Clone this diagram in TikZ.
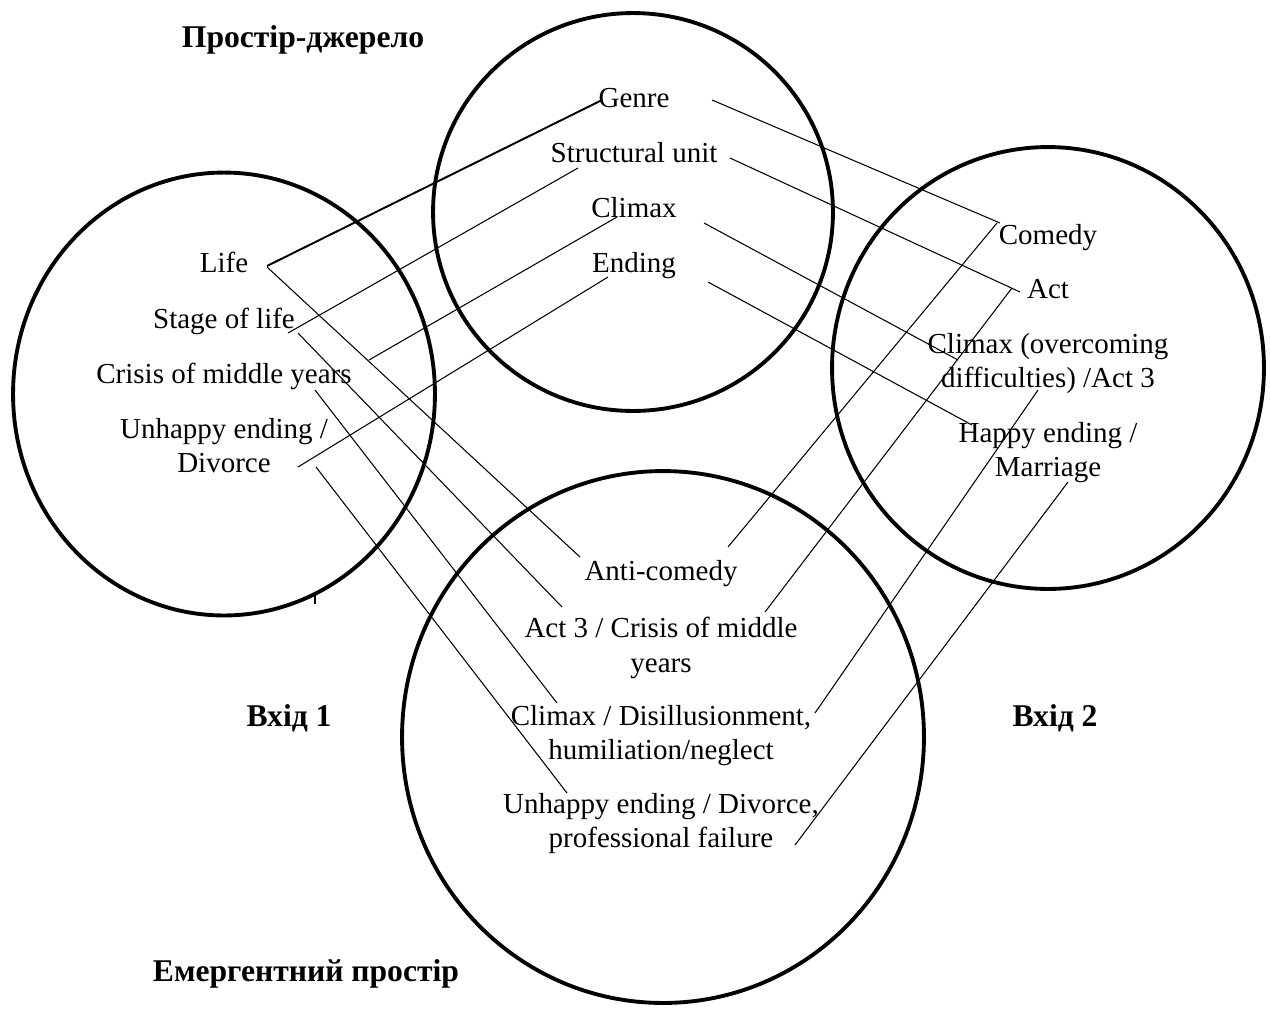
\documentclass[tikz,border=0pt]{standalone}
\usepackage{fontspec}
\setmainfont{Liberation Serif}
\usetikzlibrary{positioning, calc}
\tikzset{
    term/.style={inner sep=0pt, anchor=base, font=\fontsize{16.5}{19.6}\selectfont},
    termtwo/.style={term, anchor=north, align=center},
    spacetitle/.style={inner sep=0pt, anchor=base, font=\fontsize{18}{21}\selectfont\bfseries},
}

\begin{document}
\begin{tikzpicture}[
        x=0.02cm, y=-0.02cm,
        % Contorno spesso degli spazi
        rim/.style={line width=2.2pt},
        % Linee di corrispondenza
        link/.style={line width=0.6pt},
        boldlink/.style={line width=1.1pt}
    ]
    \useasboundingbox (0,0) rectangle (1270,1012);

    % 1. The four spaces
    \draw[rim] (633,212) ellipse [x radius=4cm, y radius=3.98cm];
    \draw[rim] (224,394) ellipse [x radius=4.22cm, y radius=4.43cm];
    \draw[rim] (1048,368) ellipse [x radius=4.32cm, y radius=4.42cm];
    \draw[rim] (663,737) ellipse [x radius=5.22cm, y radius=5.32cm];
    \draw[link] (315,596) -- (315,604);

    % 2. Titles
    \node[spacetitle] (t_source) at (303,47) {Простір-джерело};
    \node[spacetitle] (t_input1) at (289,726) {Вхід 1};
    \node[spacetitle] (t_input2) at (1055,726) {Вхід 2};
    \node[spacetitle] (t_blend) at (306,981) {Емергентний простір};

    % 3. Source space
    \node[term] (genre) at (634,107) {Genre};
    \node[term] (unit) at (634,162) {Structural unit};
    \node[term] (climax_s) at (634,217) {Climax};
    \node[term] (ending_s) at (634,272) {Ending};

    % Input 1
    \node[term] (life) at (224,272) {Life};
    \node[term] (stage) at (224,328) {Stage of life};
    \node[term] (crisis) at (224,383) {Crisis of middle years};
    \node[termtwo] (unhappy_1) at (224,418) {Unhappy ending /\\Divorce};

    % Input 2
    \node[term] (comedy) at (1048,244) {Comedy};
    \node[term] (act) at (1048,298) {Act};
    \node[termtwo] (climax_2) at (1048,333) {Climax (overcoming\\difficulties) /Act 3};
    \node[termtwo] (happy) at (1048,422) {Happy ending /\\Marriage};

    % Emergent space
    \node[term] (anti) at (661,580) {Anti-comedy};
    \node[termtwo] (act_crisis) at (661,617) {Act 3 / Crisis of middle\\years};
    \node[termtwo] (climax_b) at (661,705) {Climax / Disillusionment,\\humiliation/neglect};
    \node[termtwo] (unhappy_b) at (661,793) {Unhappy ending / Divorce,\\professional failure};

    % 4. Input 1 -> source
    \draw[boldlink] ($(life.base)+(43,-6)$) -- ($(genre.base)+(-32,-7)$);
    \draw[link] ($(stage.base)+(64,5)$) -- ($(unit.base)+(-56,6)$);
    \draw[link] ($(crisis.base)+(145,-23)$) -- ($(climax_s.base)+(-17,0)$);
    \draw[link] ($(unhappy_1.north)+(74,49)$) -- ($(ending_s.base)+(-26,5)$);

    % Input 1 -> emergent space
    \draw[link] ($(life.base)+(43,-5)$) -- ($(anti.base)+(-81,-23)$);
    \draw[link] ($(stage.base)+(74,5)$) -- ($(act_crisis.north)+(-99,-10)$);
    \draw[link] ($(crisis.base)+(91,7)$) -- ($(climax_b.north)+(-104,-2)$);
    \draw[link] ($(unhappy_1.north)+(92,49)$) -- ($(unhappy_b.north)+(-94,0)$);

    % Source -> input 2
    \draw[link] ($(genre.base)+(78,-7)$) -- ($(comedy.base)+(-48,-21)$);
    \draw[link] ($(unit.base)+(96,-4)$) -- ($(act.base)+(-28,-6)$);
    \draw[link] ($(climax_s.base)+(70,6)$) -- ($(climax_2.north)+(-90,27)$);
    \draw[link] ($(ending_s.base)+(74,10)$) -- ($(happy.north)+(-76,3)$);

    % Input 2 -> emergent space
    \draw[link] ($(comedy.base)+(-51,-21)$) -- ($(anti.base)+(67,-33)$);
    \draw[link] ($(act.base)+(-36,-10)$) -- ($(act_crisis.north)+(104,-5)$);
    \draw[link] ($(climax_2.north)+(-10,57)$) -- ($(climax_b.north)+(154,8)$);
    \draw[link] ($(happy.north)+(20,60)$) -- ($(unhappy_b.north)+(134,52)$);

\end{tikzpicture}
\end{document}
